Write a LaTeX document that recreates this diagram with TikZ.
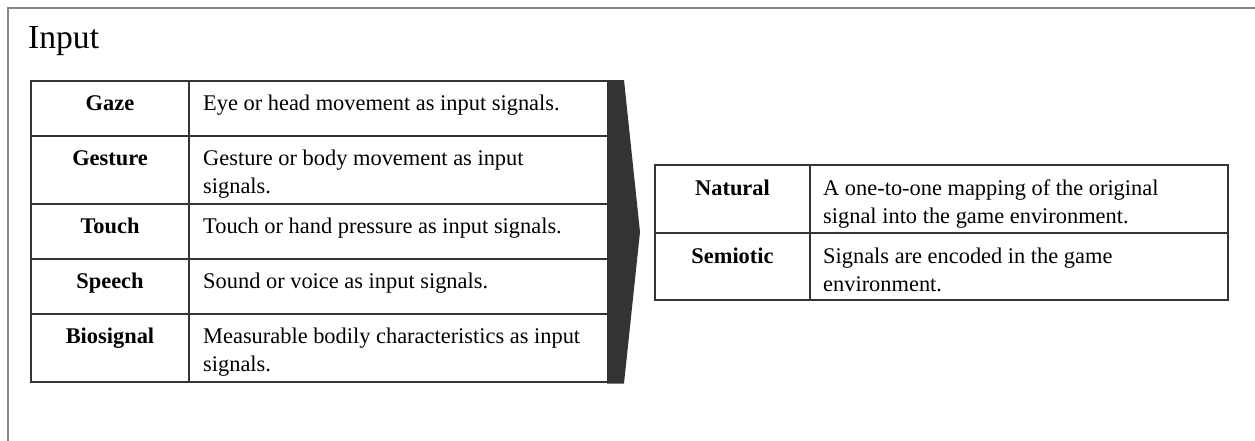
\documentclass[tikz,border=0pt]{standalone}
\usepackage{fontspec}
\setmainfont{Liberation Serif}
\definecolor{tabline}{HTML}{353535}
\definecolor{framecol}{HTML}{858585}
\definecolor{chevcol}{HTML}{333333}
\begin{document}
\begin{tikzpicture}[x=1pt,y=-1pt,
  grid/.style={draw=tabline, line width=1.7pt},
  frame/.style={draw=framecol, line width=1.5pt},
  lbl/.style={font=\fontsize{22.4}{28}\selectfont\bfseries, anchor=base, inner sep=0pt},
  desc/.style={font=\fontsize{22.4}{28}\selectfont, anchor=base west, align=left, inner sep=0pt},
  title/.style={font=\fontsize{33.6}{40}\selectfont, anchor=base west, inner sep=0pt}]
\useasboundingbox (0,0) rectangle (1255,440);
% outer frame
\draw[frame] (8,441) -- (8,8) -- (1256,8);
\node[title] (title) at (28,48) {Input};
% left table
\draw[grid] (31,81) rectangle (608,382);
\draw[grid] (189,81) -- (189,382);
\foreach \y in {136,204,259,314} \draw[grid] (31,\y) -- (608,\y);
\node[lbl] (gaze) at (110,110) {Gaze};
\node[lbl] (gesture) at (110,165) {Gesture};
\node[lbl] (touch) at (110,233) {Touch};
\node[lbl] (speech) at (110,288) {Speech};
\node[lbl] (bio) at (110,343) {Biosignal};
% (base anchor of a two-line node is the baseline of its last line)
\node[desc] (gazed) at (203,110) {Eye or head movement as input signals.};
\node[desc] (gestured) at (203,193) {Gesture or body movement as input\\signals.};
\node[desc] (touchd) at (203,233) {Touch or hand pressure as input signals.};
\node[desc] (speechd) at (203,288) {Sound or voice as input signals.};
\node[desc] (biod) at (203,371) {Measurable bodily characteristics as input\\signals.};
% chevron
\fill[chevcol] (607,80) -- (624,80) -- (640,232) -- (624,383.5) -- (607,383.5) -- cycle;
% right table
\draw[grid] (655,165) rectangle (1228,300);
\draw[grid] (810,165) -- (810,300);
\draw[grid] (655,233) -- (1228,233);
\node[lbl] (natural) at (732.5,195) {Natural};
\node[lbl] (semiotic) at (732.5,263) {Semiotic};
\node[desc] (naturald) at (823,223) {A one-to-one mapping of the original\\signal into the game environment.};
\node[desc] (semioticd) at (823,291) {Signals are encoded in the game\\environment.};
\end{tikzpicture}
\end{document}
